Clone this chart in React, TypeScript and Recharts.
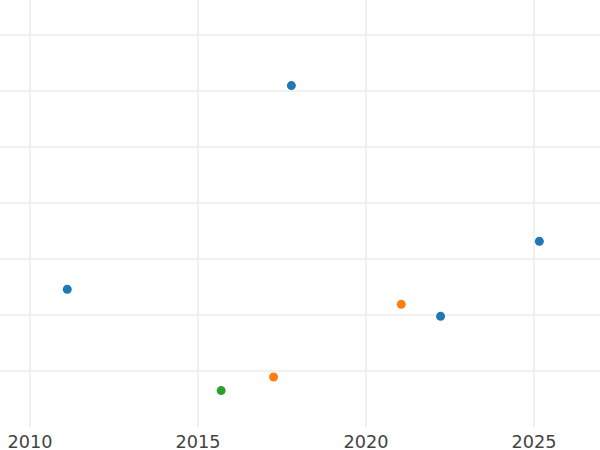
import React from "react";
import { ScatterChart, Scatter, XAxis, YAxis, CartesianGrid } from "recharts";

const blueSeries = [
  { x: 2011.1, y: 2.464 },
  { x: 2017.77, y: 6.102 },
  { x: 2025.15, y: 3.321 },
  { x: 2022.21, y: 1.982 },
];
const orangeSeries = [
  { x: 2021.04, y: 2.196 },
  { x: 2017.24, y: 0.898 },
];
const greenSeries = [{ x: 2015.68, y: 0.655 }];

const xTicks = [2010, 2015, 2020, 2025];
const yTicks = [1, 2, 3, 4, 5, 6, 7];

const Dot = (color: string) => (props: any) =>
  <circle cx={props.cx + 0.3} cy={props.cy + 0.3} r={4.5} fill={color} />;

export default function App() {
  return (
    <div style={{ position: "absolute", left: 0, top: 0 }}>
      <ScatterChart width={600} height={450} margin={{ top: 0, right: 0, bottom: 0, left: 0 }}>
        <CartesianGrid
          stroke="#ececec"
          strokeWidth={1.5}
          horizontalValues={yTicks}
          verticalValues={xTicks}
        />
        <XAxis
          type="number"
          dataKey="x"
          domain={[2009.107, 2026.964]}
          ticks={xTicks}
          allowDataOverflow
          axisLine={false}
          tickLine={false}
          height={23}
          tick={{ fontSize: 17.7, fill: "#444", fontFamily: "DejaVu Sans" }}
        />
        <YAxis type="number" dataKey="y" hide domain={[0, 7.625]} ticks={yTicks} allowDataOverflow />
        <Scatter data={blueSeries} fill="#1f77b4" shape={Dot("#1f77b4")} isAnimationActive={false} />
        <Scatter data={orangeSeries} fill="#ff7f0e" shape={Dot("#ff7f0e")} isAnimationActive={false} />
        <Scatter data={greenSeries} fill="#2ca02c" shape={Dot("#2ca02c")} isAnimationActive={false} />
      </ScatterChart>
    </div>
  );
}
